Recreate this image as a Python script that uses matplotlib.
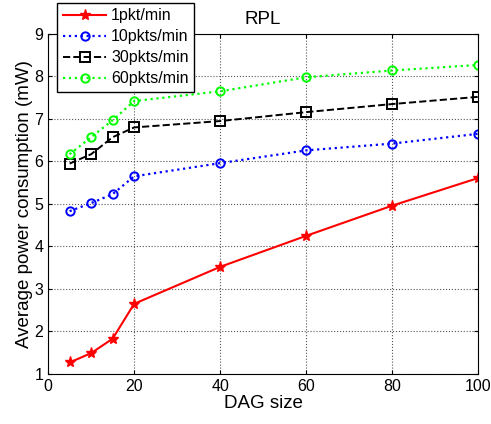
import matplotlib
matplotlib.use("Agg")
import matplotlib.pyplot as plt

plt.rcParams["font.family"] = ["Liberation Sans", "DejaVu Sans"]

# DAG sizes and measured power (mW)
dag_size = [5, 10, 15, 20, 40, 60, 80, 100]
p_1pkt = [1.27, 1.49, 1.83, 2.65, 3.52, 4.25, 4.96, 5.61]
p_10pkts = [4.83, 5.02, 5.23, 5.65, 5.96, 6.26, 6.42, 6.65]
p_30pkts = [5.95, 6.17, 6.57, 6.80, 6.95, 7.16, 7.35, 7.52]
p_60pkts = [6.17, 6.57, 6.97, 7.42, 7.65, 7.98, 8.14, 8.27]

labels = ["1pkt/min", "10pkts/min", "30pkts/min", "60pkts/min"]

fig = plt.figure(figsize=(4.91, 4.24), dpi=100)
ax = fig.add_axes([0.098, 0.118, 0.876, 0.802])

ax.plot(dag_size, p_1pkt, color="red", linestyle="-", marker="*",
        markersize=8, linewidth=1.5, label=labels[0])
ax.plot(dag_size, p_10pkts, color="blue", linestyle=":", marker="o",
        markersize=6, markerfacecolor="none", markeredgewidth=1.4,
        linewidth=1.6, label=labels[1])
ax.plot(dag_size, p_30pkts, color="black", linestyle="--", marker="s",
        markersize=6.5, markerfacecolor="none", markeredgewidth=1.4,
        linewidth=1.4, label=labels[2])
ax.plot(dag_size, p_60pkts, color="#00ff00", linestyle=":", marker="o",
        markersize=6, markerfacecolor="none", markeredgewidth=1.4,
        linewidth=1.6, label=labels[3])

ax.set_xlim(0, 100)
ax.set_ylim(1, 9)
ax.set_xticks([0, 20, 40, 60, 80, 100])
ax.set_yticks(range(1, 10))
ax.grid(True, color="#555555", linestyle=":", linewidth=0.8)
ax.tick_params(direction="in", top=True, right=True, labelsize=11.5, length=3)
for s in ax.spines.values():
    s.set_linewidth(0.8)

ax.set_xlabel("DAG size", fontsize=13.5, labelpad=1)
ax.set_ylabel("Average power consumption (mW)", fontsize=13.5, labelpad=1)
ax.set_title("RPL", fontsize=13.5, pad=7)

leg = fig.legend(loc="upper left", bbox_to_anchor=(0.117, 0.994),
                 fontsize=11.5, fancybox=False, framealpha=1,
                 edgecolor="black", borderpad=0.35, labelspacing=0.38,
                 handlelength=2.7, handletextpad=0.3, borderaxespad=0)
leg.get_frame().set_linewidth(1.0)

fig.savefig("out.png", dpi=100)
